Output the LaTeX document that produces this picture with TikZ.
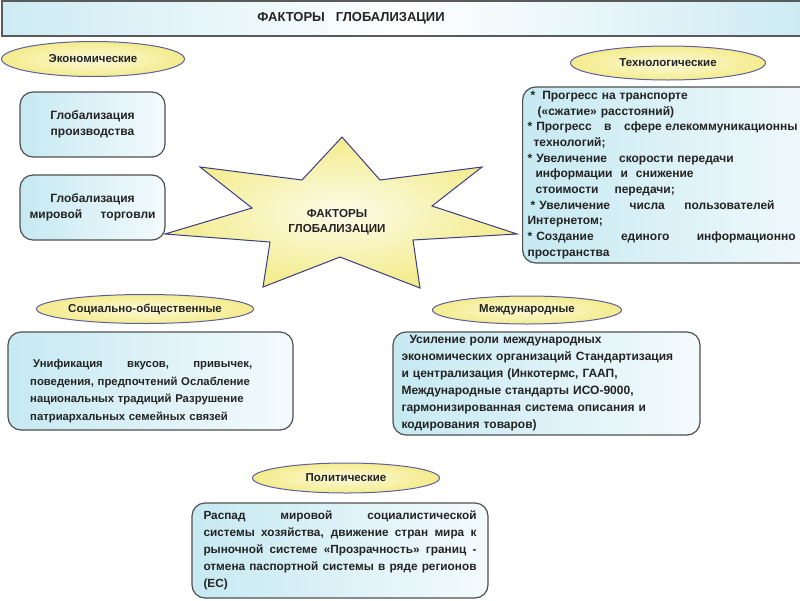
\documentclass[tikz,border=0pt]{standalone}
\usepackage{fontspec}
\setmainfont{Liberation Sans}
\usetikzlibrary{shapes.geometric}

\definecolor{ink}{RGB}{35,35,35}
\definecolor{barfill}{RGB}{205,235,243}
\definecolor{bargray}{RGB}{90,90,90}
\definecolor{starfill}{RGB}{243,236,140}
\definecolor{starline}{RGB}{60,60,130}
\definecolor{ovalfill}{RGB}{244,236,140}
\definecolor{ovalline}{RGB}{95,95,160}
\definecolor{boxfill}{RGB}{198,233,242}
\definecolor{boxline}{RGB}{80,80,80}

% a line stretched to the given width (at its \hfill's, else at its spaces)
\newcommand{\spreadline}[2]{\makebox[#1][s]{\spaceskip=.3em plus 1fil\relax #2}}

\begin{document}
\begin{tikzpicture}[x=1pt,y=-1pt,
  oval/.style={ellipse,draw=ovalline,line width=1pt,inner color=ovalfill!30!white,outer color=ovalfill,
    font=\fontsize{11.5}{13}\selectfont\bfseries,text=ink,inner sep=0},
  infobox/.style={draw=boxline,line width=1.2pt,rounded corners=13pt,left color=boxfill,right color=boxfill!20!white,
    text=ink,font=\fontsize{11.3}{17}\selectfont\bfseries,inner sep=0},
  bodytext/.style={text=ink,font=\fontsize{11.3}{17.5}\selectfont\bfseries,inner sep=0},
]
  \useasboundingbox (0,0) rectangle (800,600);
  \clip (0,0) rectangle (800,600);
  % title bar
  \draw[draw=bargray,line width=1.2pt,left color=barfill,right color=barfill,middle color=white] (2,1) rectangle (804,36);
  \node[text=ink,font=\fontsize{13}{15}\selectfont\bfseries] (title) at (351,18) {ФАКТОРЫ\ \ \ ГЛОБАЛИЗАЦИИ};

  % central star
  \draw[draw=starline,line width=1pt,inner color=starfill!20!white,outer color=starfill]
    (342,137) -- (380,180) -- (482,167) -- (432,206) -- (517,234) -- (413,240) -- (420,288) -- (340,257)
    -- (263,287) -- (270,242) -- (165,234) -- (252,208) -- (200,167) -- (302,180) -- cycle;
  \node[align=center,text=ink,font=\fontsize{11.6}{15}\selectfont\bfseries] (core) at (337,222) {ФАКТОРЫ\\ГЛОБАЛИЗАЦИИ};

  % group headings
  \foreach \n/\x/\y/\w/\h/\t in {econ/93/59/183/35/Экономические,
      tech/668/63/195/34/Технологические,
      soc/145/309/190/29/Социально-общественные,
      intl/527/310/189/28/Международные,
      pol/346/478/187/30/Политические}
    \node[oval,minimum width=\w,minimum height=\h] (\n) at (\x,\y) {\t};

  % economic
  \node[infobox,minimum width=145,minimum height=65,align=center,font=\fontsize{12}{16}\selectfont\bfseries] (prod) at (92.5,124.5) {Глобализация\\производства};
  \node[infobox,minimum width=145,minimum height=65,align=center,font=\fontsize{12}{16}\selectfont\bfseries] (trade) at (92.5,207.5) {Глобализация\\\spreadline{126pt}{мировой\hfill торговли}};

  % technological
  \node[infobox,anchor=west,minimum height=176,text width=300,inner xsep=5,align=left,
    font=\fontsize{12}{15.7}\selectfont\bfseries] (techbox) at (522,175) {%
    \hspace*{3pt}*\hspace{7pt}Прогресс на транспорте\\
    \hspace*{10pt}(«сжатие» расстояний)\\
    \spreadline{270pt}{*\hspace{4pt}Прогресс\hfill в\hfill сфере елекоммуникационны}\\
    \hspace*{6pt}технологий;\\
    \relax*\hspace{4pt}Увеличение\ \ \ скорости передачи\\
    \hspace*{8pt}информации\ \ и\ \ снижение\\
    \hspace*{8pt}стоимости\ \ \ \ передачи;\\
    \hspace*{3pt}\spreadline{244pt}{*\hspace{4pt}Увеличение\hfill числа\hfill пользователей}\\
    Интернетом;\\
    \spreadline{268pt}{*\hspace{4pt}Создание\hfill единого\hfill информационно}\\
    пространства};

  % social
  \node[infobox,minimum width=285,minimum height=98] (socbox) at (150.5,381) {};
  \node[bodytext,anchor=west,text width=222,align=left] (soctext) at (30,391) {%
    \hspace*{3pt}\spreadline{219pt}{Унификация\hfill вкусов,\hfill привычек,}\\
    поведения, предпочтений Ослабление\\
    национальных традиций Разрушение\\
    патриархальных семейных связей};

  % international
  \node[infobox,minimum width=307,minimum height=103,text width=290,align=left,
    font=\fontsize{12}{17}\selectfont\bfseries] (intlbox) at (546.5,383.5) {%
    \hspace*{8pt}Усиление роли международных\\
    экономических организаций Стандартизация\\
    и централизация (Инкотермс, ГААП,\\
    Международные стандарты ИСО-9000,\\
    гармонизированная система описания и\\
    кодирования товаров)};

  % political
  \node[infobox,minimum width=296,minimum height=95,text width=273,align=left,
    font=\fontsize{11.8}{17}\selectfont\bfseries] (polbox) at (340,550.5) {%
    \spreadline{273pt}{Распад\hfill мировой\hfill социалистической}\\
    \spreadline{273pt}{системы хозяйства, движение стран мира к}\\
    \spreadline{273pt}{рыночной системе «Прозрачность» границ -}\\
    \spreadline{273pt}{отмена паспортной системы в ряде регионов}\\
    (ЕС)};
\end{tikzpicture}
\end{document}
